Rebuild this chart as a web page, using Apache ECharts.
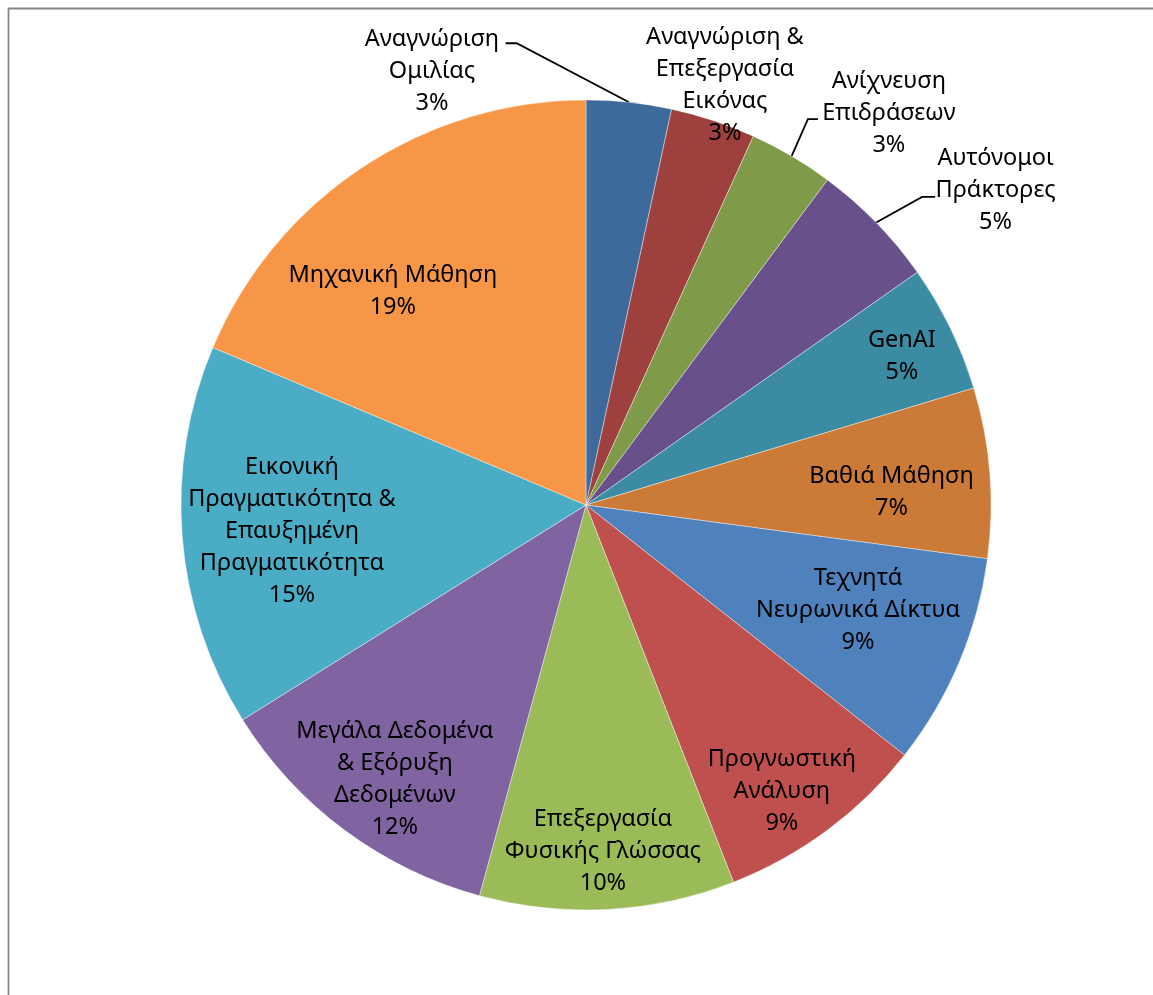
<!DOCTYPE html>
<html>
<head>
<meta charset="utf-8">
<title>Τομείς Τεχνητής Νοημοσύνης</title>
<script src="https://cdn.jsdelivr.net/npm/echarts@6/dist/echarts.min.js"></script>
<style>
  html, body { margin: 0; padding: 0; background: #ffffff; }
  #chart { width: 1153px; height: 995px; }
</style>
</head>
<body>
<div id="chart"></div>
<script>
// Categories, in clockwise order from 12 o'clock
const categories = [
  'Αναγνώριση Ομιλίας',
  'Αναγνώριση & Επεξεργασία Εικόνας',
  'Ανίχνευση Επιδράσεων',
  'Αυτόνομοι Πράκτορες',
  'GenAI',
  'Βαθιά Μάθηση',
  'Τεχνητά Νευρωνικά Δίκτυα',
  'Προγνωστική Ανάλυση',
  'Επεξεργασία Φυσικής Γλώσσας',
  'Μεγάλα Δεδομένα & Εξόρυξη Δεδομένων',
  'Εικονική Πραγματικότητα & Επαυξημένη Πραγματικότητα',
  'Μηχανική Μάθηση'
];

// Number of mentions per category
const counts = [2, 2, 2, 3, 3, 4, 5, 5, 6, 7, 9, 11];

// Wrapped label text for each category
const labelNames = [
  'Αναγνώριση\nΟμιλίας',
  'Αναγνώριση &\nΕπεξεργασία\nΕικόνας',
  'Ανίχνευση\nΕπιδράσεων',
  'Αυτόνομοι\nΠράκτορες',
  'GenAI',
  'Βαθιά Μάθηση',
  'Τεχνητά\nΝευρωνικά Δίκτυα',
  'Προγνωστική\nΑνάλυση',
  'Επεξεργασία\nΦυσικής Γλώσσας',
  'Μεγάλα Δεδομένα\n& Εξόρυξη\nΔεδομένων',
  'Εικονική\nΠραγματικότητα &\nΕπαυξημένη\nΠραγματικότητα',
  'Μηχανική Μάθηση'
];

const sliceColors = [
  '#3e6a9b', '#9d403e', '#7f9a48', '#68518a', '#3b8ca3', '#cc7a38',
  '#4f81bd', '#c0504d', '#9bbb59', '#8064a2', '#4bacc6', '#f79646'
];

// Pie geometry
const CX = 586, CY = 505, R = 405;

// Label centres: [angle clockwise from 12 o'clock (deg), distance as a fraction of the radius]
const labelPlacement = [
  [340.44, 1.136], [18.33, 1.091], [37.7, 1.223], [52.43, 1.276],
  [64.8, 0.862], [87.66, 0.755], [111.1, 0.72], [145.6, 0.856],
  [177.2, 0.855], [214.9, 0.825], [264.85, 0.729], [317.95, 0.712]
];

// Leader lines of the outer labels: elbow and end point, relative to the label centre
const leaderOffsets = {
  0: [[84.7, -28.2], [73.7, -28.2]],
  2: [[-81, 6], [-71, 6]],
  3: [[-73.5, 7], [-60.5, 7]]
};

const total = counts.reduce((a, b) => a + b, 0);
const midAngles = [];
let running = 0;
counts.forEach(v => { midAngles.push((running + v / 2) / total * 360); running += v; });

function polar(angleDeg, dist) {
  const a = angleDeg * Math.PI / 180;
  return [CX + dist * Math.sin(a), CY - dist * Math.cos(a)];
}

const chart = echarts.init(document.getElementById('chart'), null, { renderer: 'canvas' });

chart.setOption({
  animation: false,
  backgroundColor: '#ffffff',
  graphic: [{
    type: 'rect',
    silent: true,
    shape: { x: 8.5, y: 8.5, width: 1400, height: 1400 },
    style: { fill: 'none', stroke: '#868686', lineWidth: 1.8 }
  }],
  series: [{
    type: 'pie',
    center: [CX, CY],
    radius: [0, R],
    startAngle: 90,
    clockwise: true,
    avoidLabelOverlap: false,
    percentPrecision: 0,
    itemStyle: { borderColor: '#ffffff', borderWidth: 0.4 },
    emphasis: { disabled: true },
    label: {
      color: '#000000',
      fontFamily: 'Noto Sans',
      fontSize: 23.5,
      lineHeight: 32,
      align: 'center',
      formatter: p => labelNames[p.dataIndex] + '\n' + p.percent + '%'
    },
    labelLine: {
      lineStyle: { color: '#000000', width: 1.8 }
    },
    labelLayout: function (params) {
      const i = params.dataIndex;
      const place = labelPlacement[i];
      const pt = polar(place[0], place[1] * R);
      const out = { x: pt[0], y: pt[1], align: 'center', verticalAlign: 'middle' };
      const lead = leaderOffsets[i];
      if (lead) {
        out.labelLinePoints = [
          polar(midAngles[i], R),
          [pt[0] + lead[0][0], pt[1] + lead[0][1]],
          [pt[0] + lead[1][0], pt[1] + lead[1][1]]
        ];
      }
      return out;
    },
    data: categories.map((name, i) => ({
      name: name,
      value: counts[i],
      itemStyle: { color: sliceColors[i] },
      label: { position: i < 4 ? 'outside' : 'inside' },
      labelLine: { show: !!leaderOffsets[i] }
    }))
  }]
});
</script>
</body>
</html>
